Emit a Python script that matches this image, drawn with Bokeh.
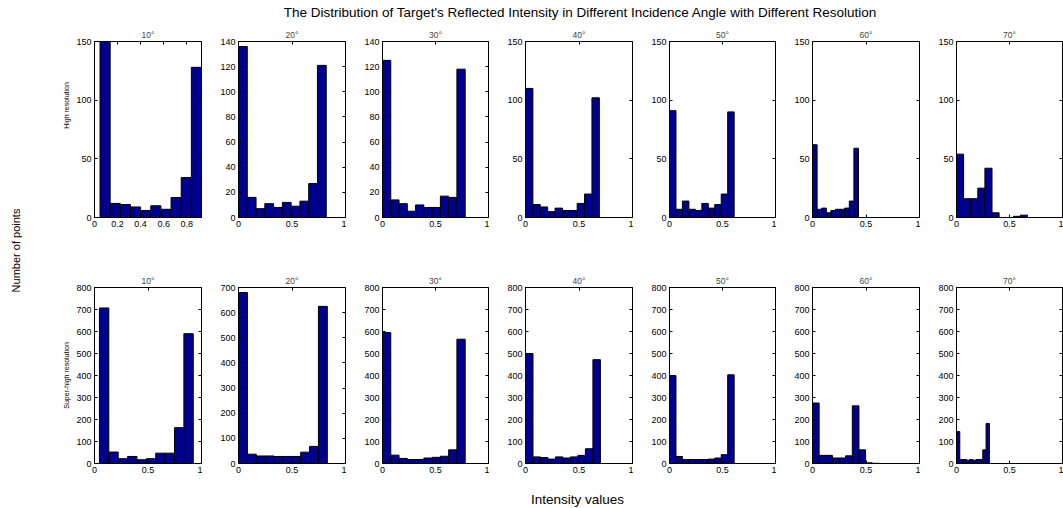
import numpy as np
from bokeh.plotting import figure
from bokeh.models import Range1d, FixedTicker, LinearAxis, Label, NumeralTickFormatter
from bokeh.layouts import row, column
from bokeh.embed import file_html
from bokeh.resources import INLINE

FONT = "Liberation Sans"
BAR = "#00008F"

# ---------------- data ----------------
angles = ["10°", "20°", "30°", "40°", "50°", "60°", "70°"]

# High resolution (top row): bin range and counts per angle
top_lo = [0.048, 0.0, 0.0, 0.0, 0.0, 0.0, 0.0]
top_hi = [0.928, 0.82, 0.78, 0.69, 0.61, 0.43, 0.67]
top_counts = [
    [150, 12, 11, 9, 6, 10, 7, 17, 34, 128],
    [136, 16, 7, 11, 8, 12, 9, 13, 27, 121],
    [125, 14, 11, 5, 10, 8, 8, 17, 16, 118],
    [110, 11, 9, 5, 8, 6, 6, 12, 20, 102],
    [91, 7, 14, 7, 6, 12, 8, 11, 20, 90],
    [62, 7, 8, 4, 6, 7, 7, 8, 14, 59],
    [54, 16, 16, 25, 42, 4, 0, 0, 1, 2],
]
top_xmax = [0.928, 1, 1, 1, 1, 1, 1]
top_xticks = [[0, 0.2, 0.4, 0.6, 0.8], [0, 0.5, 1], [0, 0.5, 1], [0, 0.5, 1],
              [0, 0.5, 1], [0, 0.5, 1], [0, 0.5, 1]]
top_ymax = [150, 140, 140, 150, 150, 150, 150]
top_yticks = [[0, 50, 100, 150],
              [0, 20, 40, 60, 80, 100, 120, 140],
              [0, 20, 40, 60, 80, 100, 120, 140],
              [0, 50, 100, 150], [0, 50, 100, 150],
              [0, 50, 100, 150], [0, 50, 100, 150]]

# Super-high resolution (bottom row)
bot_lo = [0.046, 0.0, 0.0, 0.0, 0.0, 0.0, 0.0]
bot_hi = [0.923, 0.83, 0.78, 0.70, 0.61, 0.62, 0.31]
bot_counts = [
    [707, 52, 22, 32, 17, 22, 47, 47, 163, 590],
    [680, 37, 30, 30, 28, 28, 28, 45, 68, 625],
    [595, 38, 23, 18, 18, 25, 28, 33, 62, 565],
    [500, 30, 27, 20, 30, 25, 30, 37, 67, 472],
    [400, 32, 18, 18, 18, 18, 20, 25, 40, 403],
    [275, 37, 37, 25, 25, 35, 262, 62, 3, 1],
    [145, 18, 18, 15, 18, 15, 18, 18, 62, 182],
]
bot_xmax = [1, 1, 1, 1, 1, 1, 1]
bot_xticks = [[0, 0.5, 1]] * 7
bot_ymax = [800, 700, 800, 800, 800, 800, 800]
bot_yticks = [[0, 100, 200, 300, 400, 500, 600, 700, 800],
              [0, 100, 200, 300, 400, 500, 600, 700]] + \
             [[0, 100, 200, 300, 400, 500, 600, 700, 800]] * 5

main_title = "The Distribution of Target's Reflected Intensity in Different Incidence Angle with Different Resolution"
row_labels = ["High resolution", "Super-high resolution"]
y_title = "Number of points"
x_title = "Intensity values"

# ---------------- layout ----------------
panel_widths = [130, 144, 143, 144, 143, 144, 143]
panel_borders = [22, 36, 36, 36, 36, 36, 36]


def style_axis(ax, ticks, fmt):
    ax.ticker = FixedTicker(ticks=ticks)
    ax.formatter = NumeralTickFormatter(format=fmt)
    ax.major_tick_in = 3
    ax.major_tick_out = 0
    ax.minor_tick_in = 0
    ax.minor_tick_out = 0
    ax.axis_line_color = "black"
    ax.major_tick_line_color = "black"
    ax.major_label_text_font = FONT
    ax.major_label_text_font_size = "9px"
    ax.major_label_text_color = "black"
    ax.major_label_standoff = 3


def mirror_axis(ticks):
    a = LinearAxis(ticker=FixedTicker(ticks=ticks))
    a.major_label_text_font_size = "1px"
    a.major_label_text_color = None
    a.major_label_standoff = 0
    a.major_tick_in = 3
    a.major_tick_out = 0
    a.minor_tick_in = 0
    a.minor_tick_out = 0
    a.axis_line_color = None
    a.major_tick_line_color = "black"
    return a


def panel(title, lo, hi, counts, xmax, xticks, ymax, yticks, width, bleft, height, bbottom):
    p = figure(width=width, height=height, x_range=Range1d(0, xmax), y_range=Range1d(0, ymax),
               output_backend="svg", toolbar_location=None,
               min_border_left=bleft, min_border_right=1, min_border_top=21,
               min_border_bottom=bbottom, title=title)
    p.title.align = "center"
    p.title.text_font = FONT
    p.title.text_font_size = "8.5px"
    p.title.text_font_style = "normal"
    p.title.standoff = 4
    p.xgrid.visible = False
    p.ygrid.visible = False
    p.outline_line_color = "black"
    p.outline_line_alpha = 1
    p.background_fill_color = "white"
    p.border_fill_color = "white"
    edges = np.linspace(lo, hi, len(counts) + 1)
    p.quad(left=edges[:-1], right=edges[1:], bottom=0, top=counts,
           fill_color=BAR, line_color="black", line_width=1)
    style_axis(p.xaxis[0], xticks, "0.[0]")
    style_axis(p.yaxis[0], yticks, "0")
    p.add_layout(mirror_axis(yticks), "right")
    p.add_layout(mirror_axis(xticks), "above")
    return p


top_figs = []
bot_figs = []
for i in range(7):
    top_figs.append(panel(angles[i], top_lo[i], top_hi[i], top_counts[i], top_xmax[i], top_xticks[i],
                          top_ymax[i], top_yticks[i], panel_widths[i], panel_borders[i], 246, 49))
    bot_figs.append(panel(angles[i], bot_lo[i], bot_hi[i], bot_counts[i], bot_xmax[i], bot_xticks[i],
                          bot_ymax[i], bot_yticks[i], panel_widths[i], panel_borders[i], 214, 17))


def blank(w, h):
    f = figure(width=w, height=h, x_range=Range1d(0, w), y_range=Range1d(0, h),
               output_backend="svg", toolbar_location=None, x_axis_type=None, y_axis_type=None,
               min_border=0, min_border_left=0, min_border_right=0, min_border_top=0, min_border_bottom=0)
    f.outline_line_color = None
    f.background_fill_color = "white"
    f.border_fill_color = "white"
    return f


header = blank(1063, 20)
header.add_layout(Label(x=580, y=8, text=main_title, text_align="center", text_baseline="middle",
                        text_font=FONT, text_font_size="13.5px", text_color="black"))

left = blank(72, 460)
left.add_layout(Label(x=15, y=230, text=y_title, angle=np.pi / 2, text_align="center",
                      text_baseline="middle", text_font=FONT, text_font_size="11px", text_color="black"))
left.add_layout(Label(x=66, y=375, text=row_labels[0], angle=np.pi / 2, text_align="center",
                      text_baseline="middle", text_font=FONT, text_font_size="7px", text_color="black"))
left.add_layout(Label(x=66, y=105, text=row_labels[1], angle=np.pi / 2, text_align="center",
                      text_baseline="middle", text_font=FONT, text_font_size="7px", text_color="black"))

footer = blank(1063, 28)
footer.add_layout(Label(x=577, y=9, text=x_title, text_align="center", text_baseline="middle",
                        text_font=FONT, text_font_size="13.5px", text_color="black"))

layout = column(header, row(left, column(row(*top_figs), row(*bot_figs))), footer)

open("out.html", "w").write(file_html(layout, INLINE))
